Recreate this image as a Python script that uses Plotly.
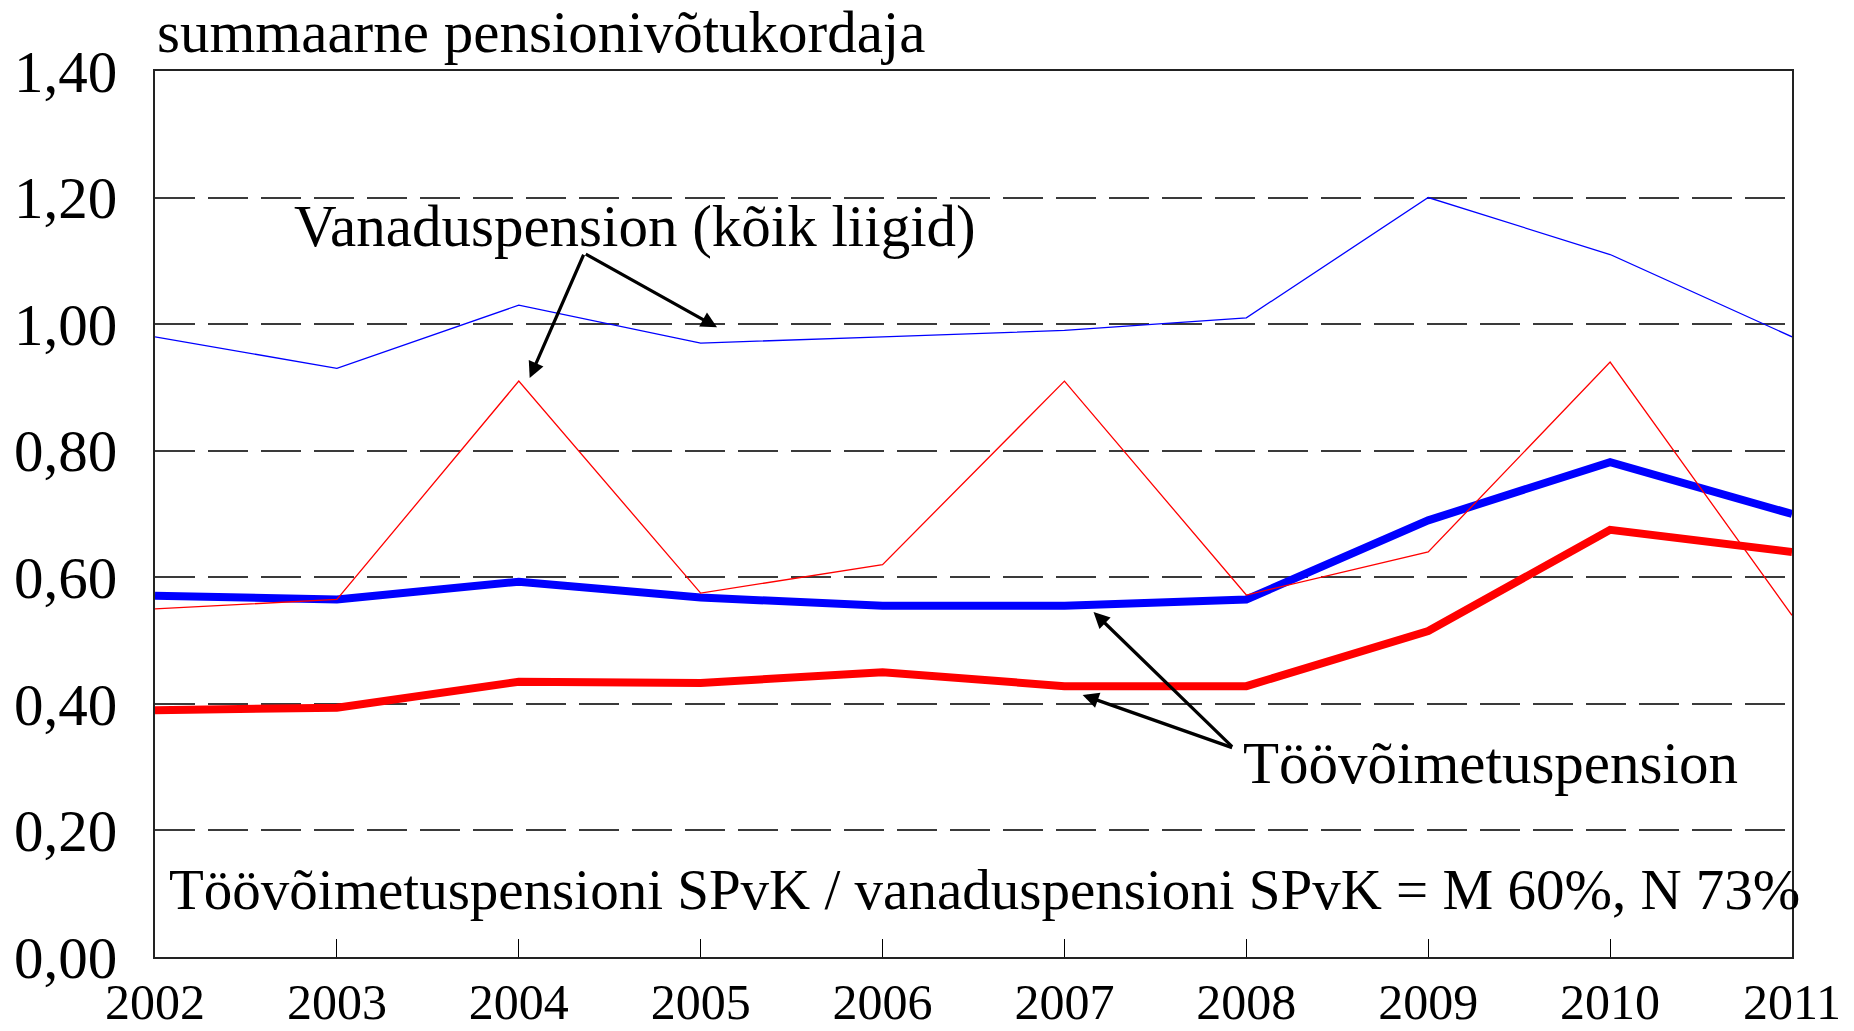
import plotly.graph_objects as go

years = [2002, 2003, 2004, 2005, 2006, 2007, 2008, 2009, 2010, 2011]
# Vanaduspension (kõik liigid) – thin lines
vana_m = [0.98, 0.93, 1.03, 0.97, 0.98, 0.99, 1.01, 1.20, 1.11, 0.98]
vana_n = [0.55, 0.565, 0.91, 0.575, 0.62, 0.91, 0.572, 0.64, 0.94, 0.54]
# Töövõimetuspension – thick lines
too_m = [0.571, 0.565, 0.593, 0.568, 0.555, 0.555, 0.565, 0.69, 0.782, 0.70]
too_n = [0.39, 0.394, 0.435, 0.433, 0.45, 0.428, 0.428, 0.515, 0.675, 0.64]

y_ticks = [0, 0.2, 0.4, 0.6, 0.8, 1.0, 1.2, 1.4]

FONT = "Liberation Serif"
FS = 59

fig = go.Figure()
fig.add_trace(go.Scatter(x=years, y=too_m, mode="lines", line=dict(color="#0000FF", width=8), showlegend=False))
fig.add_trace(go.Scatter(x=years, y=too_n, mode="lines", line=dict(color="#FF0000", width=8), showlegend=False))
fig.add_trace(go.Scatter(x=years, y=vana_m, mode="lines", line=dict(color="#0000FF", width=1.3), showlegend=False))
fig.add_trace(go.Scatter(x=years, y=vana_n, mode="lines", line=dict(color="#FF0000", width=1.3), showlegend=False))

arrow = dict(showarrow=True, arrowhead=2, arrowsize=1, arrowwidth=3.2, arrowcolor="black",
             xref="x", yref="y", axref="x", ayref="y", text="")
annotations = [
    dict(arrow, x=2005.09, y=0.995, ax=2004.36, ay=1.112),
    dict(arrow, x=2004.06, y=0.915, ax=2004.36, ay=1.112),
    dict(arrow, x=2007.16, y=0.545, ax=2007.93, ay=0.330),
    dict(arrow, x=2007.10, y=0.414, ax=2007.93, ay=0.330),
    dict(text="Vanaduspension (kõik liigid)", x=2004.64, y=1.155, xref="x", yref="y",
         showarrow=False, font=dict(family=FONT, size=FS, color="black")),
    dict(text="Töövõimetuspension", x=2009.345, y=0.3065, xref="x", yref="y",
         showarrow=False, font=dict(family=FONT, size=FS, color="black")),
    dict(text="Töövõimetuspensioni SPvK / vanaduspensioni SPvK = M 60%, N 73%", x=2006.56, y=0.107,
         xref="x", yref="y", showarrow=False, font=dict(family=FONT, size=57, color="black")),
    dict(text="summaarne pensionivõtukordaja", x=0, xanchor="left", y=(957 - 32) / 886, yanchor="middle",
         xref="paper", yref="paper", showarrow=False, font=dict(family=FONT, size=FS, color="black")),
]

fig.update_layout(
    width=1854, height=1031,
    margin=dict(l=155, r=62, t=71, b=74, autoexpand=False),
    paper_bgcolor="white", plot_bgcolor="white",
    separators=", ",
    font=dict(family=FONT, size=FS, color="black"),
    annotations=annotations,
)
fig.update_xaxes(
    range=[2002, 2011], tickvals=years, ticktext=[str(y) for y in years],
    ticks="inside", ticklen=18, tickwidth=1, tickcolor="black",
    showgrid=False, showline=True, linecolor="#222222", linewidth=2, mirror=True,
    zeroline=False, automargin=False, ticklabelstandoff=0,
    tickfont=dict(family=FONT, size=50, color="black"),
)
fig.update_yaxes(
    range=[0, 1.4], tickvals=y_ticks, tickformat=".2f",
    ticks="", showgrid=True, gridcolor="#3a3a3a", gridwidth=2, griddash="40px,13px",
    showline=True, linecolor="#222222", linewidth=2, mirror=True,
    zeroline=False, automargin=False, ticklabelstandoff=24,
    tickfont=dict(family=FONT, size=FS, color="black"),
)

fig.write_html(
    "out.html",
    config={"displayModeBar": False},
    post_script="document.body.style.margin='0';document.body.style.overflow='hidden';",
)
